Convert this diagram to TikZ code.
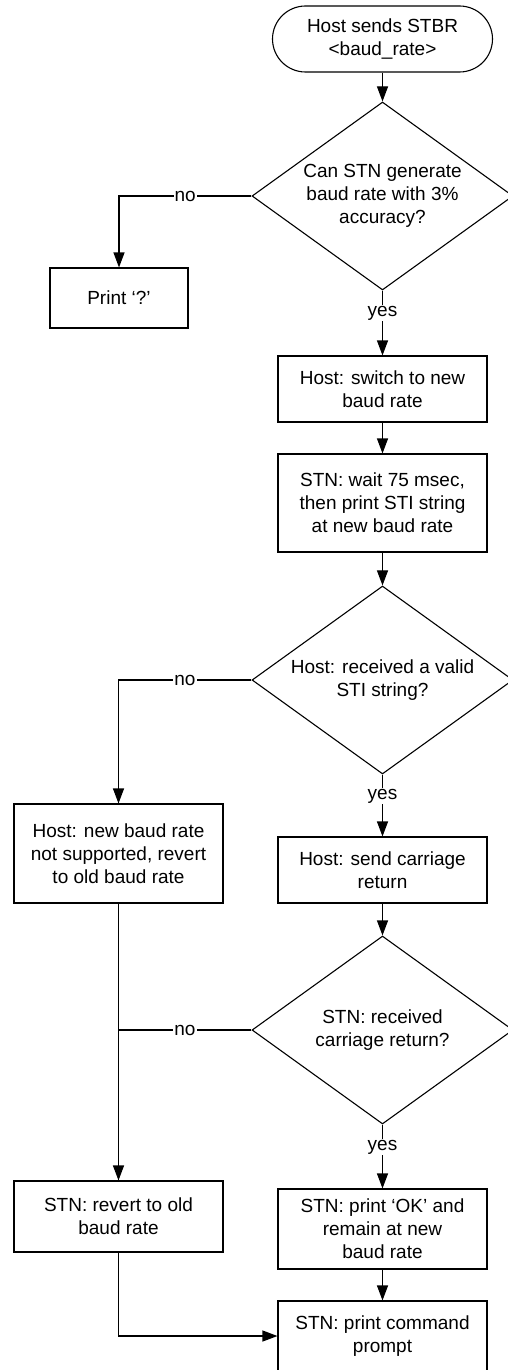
\documentclass[tikz,border=0pt]{standalone}
\usepackage{fontspec}
\setmainfont{Liberation Sans}
\usepackage{tikz}
\usetikzlibrary{arrows.meta,shapes.geometric,positioning}

\tikzset{
  chart/.style={line width=1.1pt, draw=black, font=\fontsize{19}{23}\selectfont},
  terminal/.style={chart, rectangle, rounded corners=33pt, minimum width=220pt, minimum height=66pt, align=center},
  process/.style={chart, rectangle, minimum width=209pt, align=center, inner sep=2pt},
  decision/.style={chart, diamond, aspect=1.39, inner sep=0pt, minimum width=261pt, minimum height=188pt, align=center},
  flow/.style={line width=1.1pt, -{Triangle[length=15pt,width=11pt]}},
  link/.style={line width=1.1pt},
  answer/.style={fill=white, inner sep=1pt, font=\fontsize{19}{23}\selectfont}
}

\begin{document}
\begin{tikzpicture}[x=1pt, y=-1pt]
            \useasboundingbox (0,0) rectangle (508,1370);

            % main column
            \node[terminal] (start) at (382.5,39) {Host sends STBR\\<baud\_rate>};
            \node[decision] (canGen) at (382.5,196) {Can STN generate\\baud rate with 3\%\\accuracy?};
            \node[process, minimum width=138pt, minimum height=60pt] (printQ) at (119,298) {Print ‘?’};
            \node[process, minimum height=66pt] (switchRate) at (382.5,389) {Host: switch to new\\baud rate};
            \node[process, minimum height=98pt] (waitSti) at (382.5,503) {STN: wait 75 msec,\\then print STI string\\at new baud rate};
            \node[decision] (gotSti) at (382.5,680) {Host: received a valid\\STI string?};
            \node[process, minimum height=66pt] (sendCr) at (382.5,870) {Host: send carriage\\return};
            \node[decision] (gotCr) at (382.5,1030) {STN: received\\carriage return?};
            \node[process, minimum height=80pt] (printOk) at (382.5,1229) {STN: print ‘OK’ and\\remain at new\\baud rate};
            \node[process, minimum height=70pt] (prompt) at (382.5,1336) {STN: print command\\prompt};

            % left column
            \node[process, minimum height=99pt] (notSupported) at (118.5,853.5) {Host: new baud rate\\not supported, revert\\to old baud rate};
            \node[process, minimum height=71pt] (revertRate) at (118.5,1216.5) {STN: revert to old\\baud rate};
            \coordinate (join) at (notSupported.south |- gotCr.west);

            % yes path
            \draw[flow] (start) -- (canGen);
            \draw[flow] (canGen.south) -- node[answer, pos=0.35] {yes} (switchRate.north);
            \draw[flow] (switchRate) -- (waitSti);
            \draw[flow] (waitSti) -- (gotSti);
            \draw[flow] (gotSti.south) -- node[answer, pos=0.35] {yes} (sendCr.north);
            \draw[flow] (sendCr) -- (gotCr);
            \draw[flow] (gotCr.south) -- node[answer, pos=0.35] {yes} (printOk.north);
            \draw[flow] (printOk) -- (prompt);

            % no paths
            \draw[flow] (canGen.west) -| node[answer, pos=0.25] {no} (printQ.north);
            \draw[flow] (gotSti.west) -| node[answer, pos=0.25] {no} (notSupported.north);
            \draw[link] (gotCr.west) -- node[answer] {no} (join);
            \draw[flow] (notSupported.south) -- (revertRate.north);
            \draw[flow] (revertRate.south) |- (prompt.west);
        \end{tikzpicture}
\end{document}
